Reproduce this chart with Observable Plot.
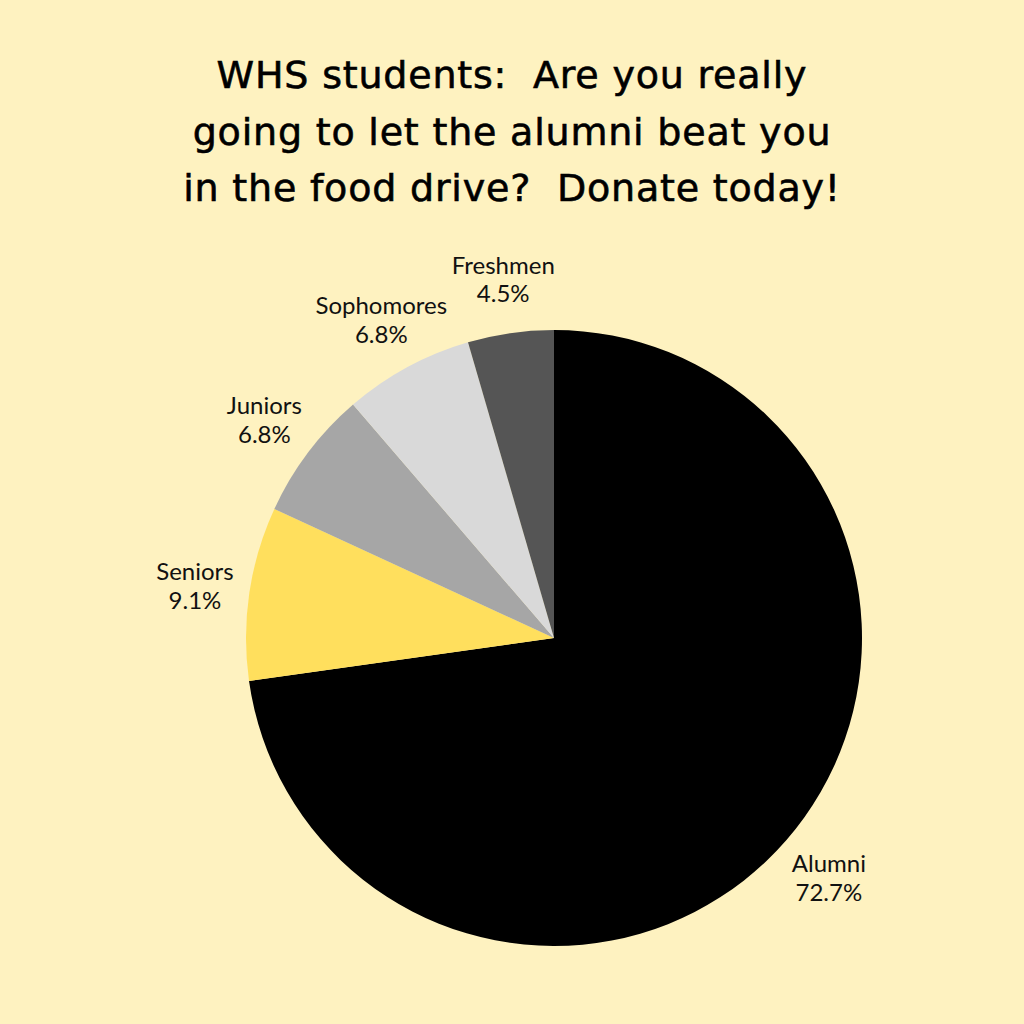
<!DOCTYPE html>
<html>
<head>
<meta charset="utf-8">
<script src="https://cdn.jsdelivr.net/npm/d3@7"></script>
<script src="https://cdn.jsdelivr.net/npm/@observablehq/plot@0.6"></script>
<style>
  html, body { margin: 0; padding: 0; background: #FEF2C0; }
  #wrap { position: relative; width: 1024px; height: 1024px; background: #FEF2C0; overflow: hidden; }
  #title { position: absolute; left: 0; top: 47px; width: 1024px; text-align: center;
           font-family: "DejaVu Sans", sans-serif; font-weight: 400; font-size: 38px; letter-spacing: 0.8px;
           line-height: 56.5px; color: #000; -webkit-text-stroke: 0.6px #000; }
  #chart { position: absolute; left: 0; top: 0; }
</style>
</head>
<body>
<div id="wrap">
  <div id="chart"></div>
  <div id="title">WHS students:&nbsp; Are you really<br>going to let the alumni beat you<br>in the food drive?&nbsp; Donate today!</div>
</div>
<script>
const categories = ["Alumni", "Seniors", "Juniors", "Sophomores", "Freshmen"];
const shares = [72.7, 9.1, 6.8, 6.8, 4.5];
const colors = ["#000000", "#FFDF5D", "#A6A6A6", "#D9D9D9", "#555555"];
const labelTexts = ["72.7%", "9.1%", "6.8%", "6.8%", "4.5%"];

const total = d3.sum(shares);
let acc = 0;
const slices = categories.map((c, i) => {
  const a0 = acc / total * 2 * Math.PI;
  acc += shares[i];
  const a1 = acc / total * 2 * Math.PI;
  const mid = (a0 + a1) / 2;
  const lr = 1.18;
  return { category: c, value: shares[i], a0, a1,
           lx: lr * Math.sin(mid), ly: lr * Math.cos(mid),
           label: c + "\n" + labelTexts[i] };
});

const pieMark = (index, scales, values, dimensions, context) => {
  const cx = scales.x(0), cy = scales.y(0);
  const r = scales.x(1) - scales.x(0);
  const g = d3.create("svg:g").attr("transform", `translate(${cx},${cy})`);
  const arc = d3.arc().innerRadius(0).outerRadius(r);
  g.selectAll("path").data(slices).join("path")
    .attr("d", d => arc({startAngle: d.a0, endAngle: d.a1}))
    .attr("fill", d => scales.color(d.category));
  return g.node();
};

const R = 308, CX = 554, CY = 638;
const chart = Plot.plot({
  width: 1024, height: 1024,
  margin: 0,
  style: { background: "transparent", overflow: "visible" },
  x: { domain: [-1, 1], range: [CX - R, CX + R], axis: null },
  y: { domain: [-1, 1], range: [CY + R, CY - R], axis: null },
  color: { domain: categories, range: colors },
  marks: [
    pieMark,
    Plot.text(slices, {
      x: "lx", y: "ly", text: "label",
      fontSize: 24, lineHeight: 1.2, fill: "#111",
      fontFamily: "Lato, sans-serif", textAnchor: "middle"
    })
  ]
});
document.getElementById("chart").appendChild(chart);
</script>
</body>
</html>
